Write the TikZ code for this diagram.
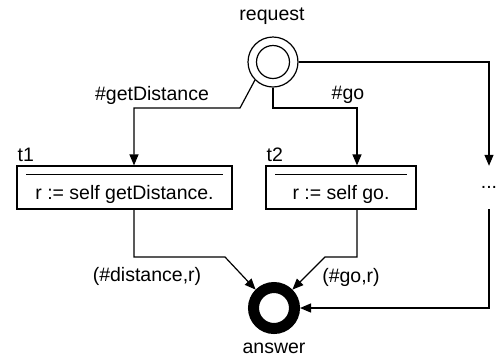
\documentclass[tikz,border=0pt]{standalone}
\usepackage{fontspec}
\setmainfont{Liberation Sans}
\usetikzlibrary{arrows.meta}
\usetikzlibrary{positioning}

\begin{document}
\begin{tikzpicture}[x=1pt,y=-1pt,
  every node/.style={font=\fontsize{19.5}{22}\selectfont},
  place/.style={draw,circle,line width=1.2pt,inner sep=0pt},
  trans/.style={draw,rectangle,line width=1.2pt,inner xsep=0pt,inner ysep=3pt,text height=30pt,text depth=7pt},
  lbl/.style={inner sep=1pt},
  arc/.style={line width=1.2pt,-{Triangle[length=11pt,width=9pt]}},
  line/.style={line width=1.2pt}]
  \useasboundingbox (0,0) rectangle (498,360);

  %places
  \node[place,minimum size=50pt] (req) at (273,62) {};
  \draw[line] (req.center) circle[radius=16.5pt];
  \node (reqlbl) at (272,16) {request};
  \node[place,line width=11pt,minimum size=41pt] (ans) at (274,308) {};
  \node (anslbl) at (274,348) {answer};

  %transitions
  \node[trans,minimum width=215pt] (t1) at (124.5,187.5) {r := self getDistance.};
  \draw[line] ([xshift=10pt,yshift=-9pt]t1.north west) -- ([xshift=-10pt,yshift=-9pt]t1.north east);
  \node[lbl,above right=3pt and 0pt of t1.north west] (t1lbl) {t1};
  \node[trans,minimum width=150pt] (t2) at (341,187.5) {r := self go.};
  \draw[line] ([xshift=10pt,yshift=-9pt]t2.north west) -- ([xshift=-10pt,yshift=-9pt]t2.north east);
  \node[lbl,above right=3pt and 0pt of t2.north west] (t2lbl) {t2};
  \node[inner sep=0pt,minimum height=43pt] (t3) at (489,187.5) {...};

  %arcs
  \coordinate (b1) at (240,108);
  \coordinate (b4) at (225,257);
  \coordinate (b5) at (325,257);
  \draw[arc] (req.south west) -- (b1) -| ([xshift=9.5pt]t1.north);
  \draw[arc] (req.south) -- (req.south |- b1) -| ([xshift=16pt]t2.north);
  \draw[arc] (req.east) -| (t3.north);
  \draw[arc] ([xshift=9.5pt]t1.south) |- (b4) -- (ans.north west);
  \draw[arc] ([xshift=16pt]t2.south) |- (b5) -- (ans.north east);
  \draw[arc] (t3.south) |- (ans.east);

  %inscriptions
  \node (l1) at (152,95) {\#getDistance};
  \node (l2) at (348,95) {\#go};
  \node (l3) at (147,276) {(\#distance,r)};
  \node (l4) at (351,277) {(\#go,r)};
\end{tikzpicture}
\end{document}
